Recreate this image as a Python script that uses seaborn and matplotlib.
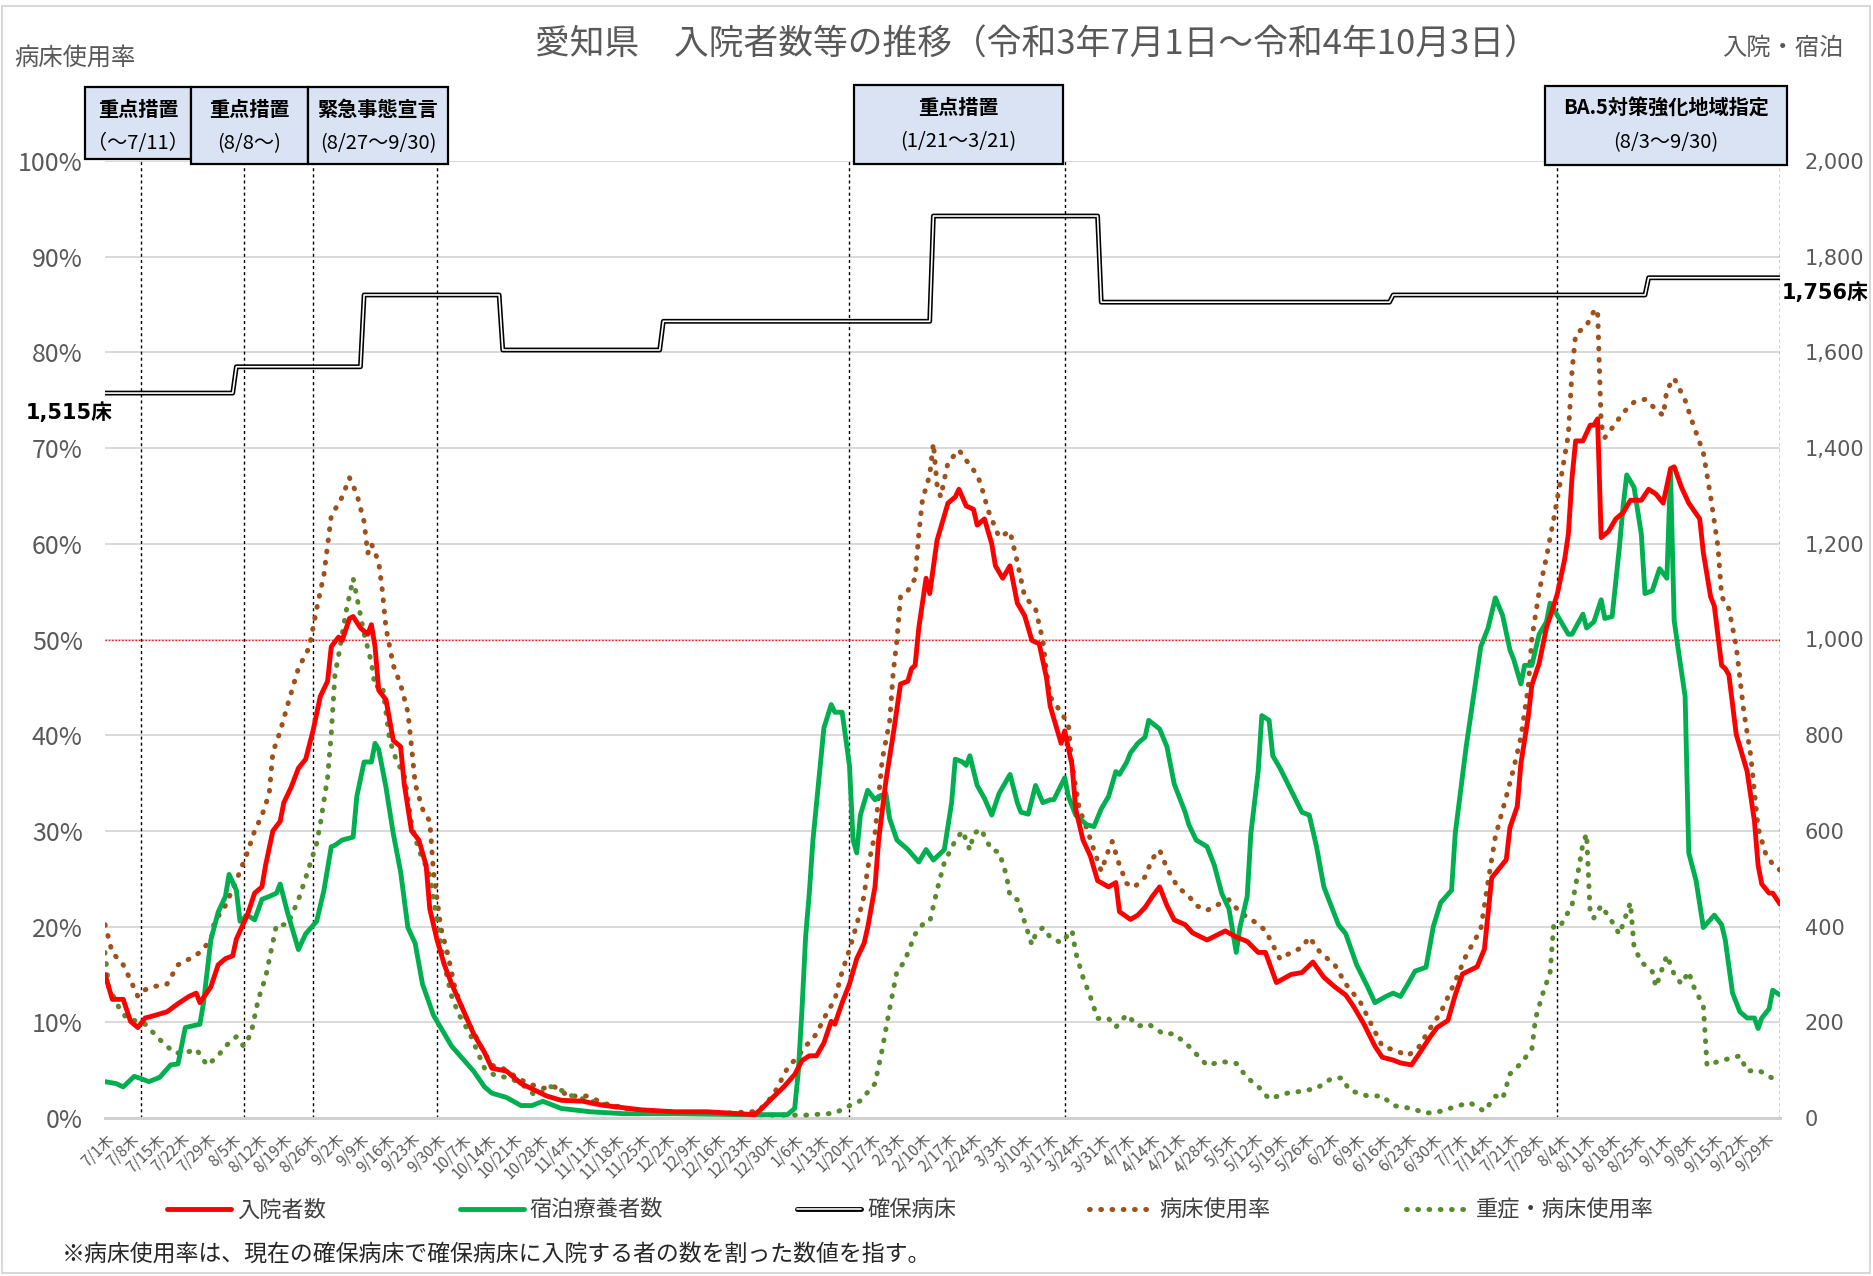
import numpy as np
import pandas as pd
import matplotlib
matplotlib.use("Agg")
import matplotlib.pyplot as plt
import matplotlib.patheffects as pe
from matplotlib.patches import Rectangle
import seaborn as sns

# ---------------------------------------------------------------- data
START = pd.Timestamp("2021-07-01")
END = pd.Timestamp("2022-10-03")

# 入院者数 (days since START, persons)
admitted = [(0, 300), (2, 248), (5, 248), (7, 202), (9, 189), (11, 209), (13, 213), (17, 222), (20, 239),
            (23, 254), (25, 261), (26, 241), (29, 274), (31, 320), (33, 333), (35, 339), (36, 374), (39, 424),
            (41, 470), (43, 483), (44, 528), (46, 600), (48, 620), (49, 659), (51, 691), (53, 731), (55, 750),
            (57, 809), (59, 881), (61, 913), (62, 985), (64, 1005), (65, 998), (67, 1044), (68, 1048), (70, 1024),
            (72, 1011), (73, 1031), (74, 985), (75, 894), (77, 874), (79, 789), (81, 776), (82, 698), (84, 600),
            (86, 581), (88, 528), (89, 437), (91, 372), (93, 320), (95, 280), (98, 228), (101, 176), (104, 137),
            (106, 104), (110, 98), (114, 72), (117, 61), (121, 46), (125, 37), (131, 35), (134, 30), (137, 26),
            (147, 17), (156, 13), (165, 13), (174, 9), (178, 7), (180, 20), (183, 43), (186, 65), (189, 91),
            (191, 120), (193, 130), (195, 130), (197, 157), (199, 202), (200, 196), (202, 241), (204, 280),
            (206, 333), (208, 365), (209, 398), (211, 483), (212, 581), (214, 705), (216, 802), (218, 907),
            (220, 913), (221, 939), (222, 946), (223, 1024), (225, 1128), (226, 1096), (228, 1207), (231, 1285),
            (233, 1298), (234, 1314), (236, 1279), (238, 1272), (239, 1239), (241, 1252), (243, 1200), (244, 1154),
            (246, 1128), (248, 1154), (250, 1076), (252, 1050), (254, 998), (256, 991), (258, 920), (259, 861),
            (262, 783), (263, 809), (265, 737), (266, 646), (268, 581), (270, 548), (272, 496), (275, 483),
            (277, 492), (278, 431), (281, 415), (283, 424), (285, 440), (287, 463), (289, 483), (291, 444),
            (293, 414), (296, 404), (298, 387), (302, 372), (306, 387), (307, 391), (310, 378), (313, 369),
            (316, 346), (318, 346), (321, 283), (325, 300), (328, 304), (331, 326), (334, 294), (337, 274),
            (340, 257), (342, 235), (345, 196), (348, 150), (350, 127), (353, 121), (355, 115), (358, 111),
            (360, 133), (363, 168), (365, 189), (368, 204), (370, 257), (372, 301), (376, 316), (378, 353),
            (379, 428), (380, 502), (384, 540), (385, 607), (387, 651), (388, 741), (390, 838), (391, 905),
            (393, 950), (395, 1025), (396, 1047), (398, 1096), (400, 1168), (401, 1220), (402, 1337), (403, 1415),
            (405, 1415), (407, 1448), (408, 1448), (409, 1461), (410, 1213), (412, 1226), (414, 1252), (416, 1265),
            (418, 1291), (421, 1291), (423, 1314), (425, 1304), (427, 1285), (429, 1357), (430, 1361), (432, 1318),
            (434, 1285), (437, 1252), (438, 1181), (440, 1089), (441, 1070), (443, 946), (444, 939), (445, 926),
            (447, 802), (450, 724), (452, 620), (453, 528), (454, 489), (456, 470), (457, 470), (459, 447)]

# 宿泊療養者数 (days since START, persons)
hotel = [(0, 76), (3, 72), (5, 65), (8, 87), (10, 82), (12, 76), (15, 85), (18, 111), (20, 113), (22, 189),
         (26, 196), (27, 241), (29, 372), (31, 430), (33, 463), (34, 509), (36, 476), (37, 411), (39, 424),
         (41, 414), (43, 457), (45, 463), (47, 470), (48, 489), (50, 430), (53, 352), (55, 385), (58, 411),
         (60, 476), (62, 567), (63, 570), (65, 581), (68, 587), (69, 672), (71, 744), (73, 744), (74, 783),
         (75, 770), (77, 691), (79, 594), (81, 515), (83, 398), (85, 365), (87, 280), (90, 215), (93, 176),
         (95, 150), (98, 124), (101, 98), (104, 65), (106, 52), (110, 43), (114, 26), (117, 26), (120, 35),
         (125, 20), (133, 13), (142, 9), (156, 9), (174, 7), (187, 7), (189, 20), (190, 98), (191, 228),
         (192, 380), (193, 470), (194, 581), (196, 737), (197, 815), (199, 864), (200, 848), (202, 848),
         (204, 737), (205, 581), (206, 554), (207, 633), (209, 685), (211, 665), (212, 672), (214, 678),
         (215, 626), (217, 581), (220, 561), (223, 535), (225, 561), (227, 539), (230, 561), (232, 659),
         (233, 750), (235, 744), (236, 737), (237, 757), (239, 695), (241, 668), (243, 633), (245, 678),
         (248, 718), (250, 659), (251, 639), (253, 635), (255, 695), (257, 659), (259, 665), (260, 665),
         (263, 711), (264, 672), (266, 633), (269, 613), (271, 609), (273, 646), (275, 672), (277, 724),
         (278, 718), (280, 744), (281, 763), (283, 783), (285, 796), (286, 831), (289, 813), (291, 776),
         (293, 698), (296, 639), (297, 613), (299, 581), (302, 567), (304, 528), (306, 470), (308, 437),
         (310, 346), (311, 398), (313, 463), (314, 594), (316, 724), (317, 841), (319, 831), (320, 757),
         (322, 731), (325, 685), (328, 639), (330, 633), (332, 567), (334, 483), (337, 424), (338, 404),
         (340, 385), (343, 320), (346, 274), (348, 241), (351, 254), (353, 261), (355, 254), (357, 280),
         (359, 307), (362, 315), (364, 400), (366, 450), (369, 476), (370, 594), (373, 776), (375, 881),
         (377, 985), (379, 1024), (381, 1087), (383, 1050), (385, 978), (386, 959), (388, 907), (389, 946),
         (391, 946), (393, 1011), (395, 1037), (396, 1076), (399, 1037), (401, 1011), (402, 1011), (405, 1053),
         (406, 1024), (408, 1037), (410, 1083), (411, 1044), (413, 1048), (415, 1194), (416, 1278), (417, 1344),
         (419, 1318), (421, 1220), (422, 1096), (424, 1102), (426, 1148), (428, 1128), (429, 1350), (430, 1040),
         (431, 985), (433, 881), (434, 554), (436, 496), (438, 398), (441, 424), (443, 404), (444, 372),
         (446, 261), (448, 222), (450, 209), (452, 209), (453, 187), (454, 209), (456, 228), (457, 267),
         (459, 257)]

# 確保病床 (days since START, beds) – level changes
beds = [(0, 1515), (35, 1515), (36, 1570), (70, 1570), (71, 1720), (108, 1720), (109, 1605), (152, 1605),
        (153, 1665), (226, 1665), (227, 1885), (272, 1885), (273, 1705), (352, 1705), (353, 1720), (422, 1720),
        (423, 1756), (459, 1756)]

# 病床使用率 (days since START, %)
occupancy = [(0, 20.2), (2, 17.3), (5, 16.0), (7, 14.4), (9, 12.7), (11, 13.4), (13, 13.7), (17, 14.0),
             (20, 16.0), (23, 16.6), (26, 17.3), (29, 18.6), (30, 20.5), (33, 22.2), (36, 24.8), (37, 25.8),
             (39, 27.7), (41, 30.0), (43, 31.6), (45, 33.9), (46, 38.2), (48, 40.4), (50, 43.1), (53, 47.0),
             (56, 49.2), (58, 53.2), (60, 56.8), (62, 62.9), (65, 64.9), (67, 66.9), (69, 65.2), (71, 62.3),
             (72, 59.0), (73, 60.0), (75, 58.1), (76, 55.1), (77, 51.2), (79, 47.3), (81, 45.3), (83, 42.4),
             (84, 38.8), (85, 34.9), (87, 32.3), (89, 31.0), (90, 25.8), (92, 19.9), (94, 17.0), (96, 13.4),
             (99, 10.4), (103, 7.5), (106, 5.5), (109, 5.2), (113, 4.2), (116, 3.6), (120, 3.1), (123, 3.3),
             (127, 2.3), (132, 2.3), (137, 1.5), (147, 0.7), (156, 0.5), (170, 0.5), (179, 0.7), (183, 2.3),
             (187, 5.2), (190, 6.5), (192, 7.5), (195, 8.8), (197, 10.4), (200, 12.4), (202, 15.3), (204, 17.6),
             (206, 20.2), (208, 23.2), (209, 26.1), (211, 29.7), (212, 33.6), (213, 37.5), (215, 41.4),
             (216, 46.6), (217, 49.9), (218, 54.5), (220, 55.1), (222, 56.4), (223, 61.0), (224, 64.6),
             (226, 67.2), (227, 70.5), (228, 66.2), (229, 64.9), (231, 68.5), (234, 69.8), (237, 68.2),
             (239, 67.2), (240, 66.2), (242, 63.5), (245, 60.7), (248, 61.3), (250, 58.1), (252, 54.5),
             (255, 53.2), (257, 49.9), (258, 46.6), (259, 44.0), (262, 42.4), (264, 41.1), (265, 36.9),
             (267, 32.3), (269, 30.3), (271, 28.0), (273, 25.8), (275, 28.0), (276, 28.9), (278, 26.4),
             (280, 24.5), (282, 24.1), (285, 25.2), (287, 27.1), (289, 28.0), (291, 26.1), (294, 24.1),
             (297, 23.2), (299, 22.2), (302, 21.7), (305, 22.3), (308, 22.8), (311, 21.5), (315, 20.5),
             (318, 19.6), (322, 16.6), (325, 17.3), (328, 17.8), (330, 18.9), (333, 17.3), (337, 16.0),
             (340, 14.0), (344, 12.1), (347, 9.8), (350, 7.5), (354, 7.0), (357, 6.5), (360, 7.4), (363, 9.3),
             (366, 11.0), (370, 14.3), (373, 17.0), (377, 19.7), (379, 24.7), (381, 29.4), (384, 33.6),
             (386, 36.5), (388, 39.8), (390, 45.0), (391, 50.1), (393, 55.0), (395, 58.6), (397, 62.6),
             (399, 66.9), (401, 71.4), (402, 78.0), (403, 81.9), (406, 82.8), (408, 84.3),
             (409, 84.5), (410, 72.5), (411, 71.1), (413, 72.1), (416, 73.7), (419, 74.8), (422, 75.1),
             (424, 74.4), (427, 73.4), (428, 76.1), (430, 77.3), (433, 75.0), (435, 72.7), (438, 69.5),
             (440, 64.9), (442, 59.7), (443, 54.5), (445, 53.2), (447, 49.3), (449, 42.7), (451, 37.8),
             (453, 30.3), (455, 27.7), (457, 26.5), (459, 25.9)]

# 重症・病床使用率 (days since START, %)
severe = [(0, 17.3), (1, 13.7), (4, 11.4), (6, 10.4), (9, 10.1), (11, 9.8), (15, 8.2), (19, 6.8), (22, 6.8),
          (25, 7.2), (28, 5.5), (31, 6.5), (33, 7.5), (36, 8.5), (38, 7.5), (40, 8.8), (42, 12.4), (44, 14.7),
          (47, 20.2), (50, 20.2), (53, 22.8), (55, 25.1), (58, 28.7), (59, 30.7), (61, 35.6), (62, 40.1),
          (63, 46.3), (64, 48.3), (66, 52.8), (68, 56.4), (70, 52.5), (71, 50.6), (73, 47.6), (74, 45.0),
          (76, 45.3), (78, 39.5), (80, 37.2), (82, 35.9), (84, 30.7), (86, 28.0), (89, 25.4), (91, 20.5),
          (93, 16.0), (95, 12.7), (97, 10.8), (100, 8.8), (104, 5.2), (107, 4.4), (111, 4.2), (115, 3.3),
          (118, 2.3), (122, 3.3), (125, 2.9), (128, 2.3), (138, 1.3), (147, 0.7), (165, 0.5), (183, 0.3),
          (192, 0.3), (200, 0.5), (203, 1.1), (207, 1.8), (211, 3.6), (213, 7.2), (215, 11.4), (217, 15.3),
          (219, 16.3), (222, 19.2), (224, 20.2), (226, 20.5), (228, 23.8), (230, 26.7), (233, 29.0),
          (235, 30.0), (237, 28.0), (238, 29.7), (240, 30.2), (242, 28.7), (243, 28.0), (245, 27.8),
          (247, 25.4), (248, 23.2), (250, 22.8), (252, 20.5), (254, 18.1), (255, 19.2), (257, 19.9),
          (259, 18.9), (262, 18.3), (265, 19.6), (266, 17.3), (268, 14.7), (270, 12.7), (272, 10.4),
          (275, 10.4), (277, 9.5), (280, 10.8), (283, 9.6), (286, 9.8), (290, 8.8), (293, 8.8), (297, 7.5),
          (302, 5.5), (306, 5.9), (310, 5.7), (313, 4.2), (316, 3.3), (319, 2.0), (324, 2.6), (328, 2.8),
          (332, 3.1), (336, 4.1), (339, 4.2), (341, 2.9), (346, 2.3), (350, 2.3), (353, 1.3), (358, 1.0),
          (362, 0.5), (366, 0.7), (371, 1.3), (374, 1.6), (378, 0.7), (381, 2.3), (383, 2.0), (385, 4.6),
          (388, 5.7), (391, 7.2), (392, 10.4), (394, 13.0), (396, 15.2), (397, 20.2), (399, 20.2),
          (402, 22.2), (404, 26.4), (405, 28.7), (406, 29.7), (407, 21.2), (408, 20.9), (410, 22.2),
          (413, 20.5), (415, 19.2), (418, 22.5), (419, 17.9), (421, 16.3), (424, 15.3), (425, 13.7),
          (428, 17.0), (430, 15.0), (432, 14.0), (434, 15.3), (435, 14.0), (438, 11.7), (439, 5.5),
          (442, 5.9), (445, 6.2), (448, 6.5), (450, 4.9), (453, 5.0), (455, 4.6), (458, 3.9)]

# Measures in force and the dates marked by vertical lines
measures = [("重点措置", "（～7/11）"), ("重点措置", "(8/8～)"), ("緊急事態宣言", "(8/27～9/30)"),
            ("重点措置", "(1/21～3/21)"), ("BA.5対策強化地域指定", "(8/3～9/30)")]
measure_dates = ["2021-07-11", "2021-08-08", "2021-08-27", "2021-09-30",
                 "2022-01-21", "2022-03-21", "2022-08-03", "2022-10-03"]

legend_labels = ["入院者数", "宿泊療養者数", "確保病床", "病床使用率", "重症・病床使用率"]
pct_ticks = list(range(0, 101, 10))
count_ticks = list(range(0, 2001, 200))
WEEKDAYS = "月火水木金土日"

# ---------------------------------------------------------------- style
sns.set_style("white")
JP = ["Noto Sans CJK JP", "DejaVu Sans"]
WIDE = ["DejaVu Sans", "Noto Sans CJK JP"]
plt.rcParams["font.family"] = JP
GREY = "#595959"

W, H = 1873, 1276
fig = plt.figure(figsize=(W / 100, H / 100), dpi=100)


def fx(x):
    return x / W


def fy(y):
    return 1 - y / H


ax = fig.add_axes([fx(105), fy(1118), fx(1780) - fx(105), fy(161) - fy(1118)])
ax2 = ax.twinx()


def frame(pairs):
    df = pd.DataFrame(pairs, columns=["day", "value"])
    df["date"] = START + pd.to_timedelta(df["day"], unit="D")
    return df


def draw(axis, pairs, **kw):
    sns.lineplot(data=frame(pairs), x="date", y="value", ax=axis, errorbar=None, **kw)
    return axis.lines[-1]


def dotted(line, width):
    # round dots, roughly one dot-diameter apart
    line.set_linewidth(width)
    line.set_linestyle((0, (0.15, 2.1)))
    line.set_dash_capstyle("round")


# percentage series (left axis)
h_occ = draw(ax, occupancy, color="#A0501A", zorder=3)
dotted(h_occ, 3.6)
h_sev = draw(ax, severe, color="#5A8A2E", zorder=3)
dotted(h_sev, 3.6)

# count series (right axis)
h_beds = draw(ax2, beds, color="white", lw=1.2, zorder=2,
              path_effects=[pe.Stroke(linewidth=3.5, foreground="black"), pe.Normal()])
h_hotel = draw(ax2, hotel, color="#00B050", lw=3.5, zorder=3)
h_adm = draw(ax2, admitted, color="#FF0000", lw=3.5, zorder=4)

# reference lines
for d in measure_dates:
    ax.axvline(pd.Timestamp(d), color="black", lw=1.0, linestyle=(0, (2.2, 2.2)), zorder=1)
ax.axhline(50, color="#FF0000", lw=1.0, linestyle=(0, (1.0, 1.4)), zorder=1.5)

# axes
ax.set_xlim(START, END)
ax.set_ylim(0, 100)
ax2.set_ylim(0, 2000)
for a in (ax, ax2):
    a.set_xlabel("")
    a.set_ylabel("")
    for s in ("top", "left", "right"):
        a.spines[s].set_visible(False)
ax2.spines["bottom"].set_visible(False)
ax.spines["bottom"].set_color("#D0D0D0")
ax.spines["bottom"].set_linewidth(2.2)

ax.yaxis.grid(True, color="#D9D9D9", lw=1.4)
ax.xaxis.grid(False)
ax2.grid(False)

ax.set_yticks(pct_ticks)
ax.set_yticklabels([f"{v}%" for v in pct_ticks], fontsize=18, color=GREY)
ax.tick_params(axis="y", length=0, pad=16)
ax2.set_yticks(count_ticks)
ax2.set_yticklabels([f"{v:,}" for v in count_ticks], fontsize=15, color=GREY, family=WIDE)
ax2.tick_params(axis="y", length=0, pad=18)

weeks = pd.date_range(START, "2022-09-29", freq="7D")
ax.set_xticks(weeks)
ax.set_xticklabels([f"{d.month}/{d.day}{WEEKDAYS[d.weekday()]}" for d in weeks],
                   fontsize=11, color=GREY, rotation=45, ha="right", rotation_mode="anchor")
ax.tick_params(axis="x", length=6, width=1.3, color="#BFBFBF", pad=3, direction="out")

# bed-count end labels
fig.text(fx(26), fy(413), f"{beds[0][1]:,}床", fontsize=15, fontweight="bold",
         family=WIDE, ha="left", va="center", color="black")
fig.text(fx(1782), fy(293), f"{beds[-1][1]:,}床", fontsize=15, fontweight="bold",
         family=WIDE, ha="left", va="center", color="black")

# titles
fig.text(fx(1037), fy(45), "愛知県　入院者数等の推移（令和3年7月1日～令和4年10月3日）",
         fontsize=25, color=GREY, ha="center", va="center")
fig.text(fx(14), fy(58), "病床使用率", fontsize=17.5, color=GREY, ha="left", va="center")
fig.text(fx(1843), fy(48), "入院・宿泊", fontsize=17.5, color=GREY, ha="right", va="center")

# measure boxes (pixel layout: left, right, top, bottom)
box_px = [(85, 191, 87, 159), (191, 308, 87, 164), (308, 448, 87, 164),
          (854, 1063, 85, 164), (1545, 1787, 86, 165)]
for (name, period), (x0, x1, y0, y1) in zip(measures, box_px):
    fig.add_artist(Rectangle((fx(x0), fy(y1)), fx(x1) - fx(x0), fy(y0) - fy(y1),
                             transform=fig.transFigure, facecolor="#DAE3F3",
                             edgecolor="black", lw=1.6, zorder=5))
    cx = fx((x0 + x1) / 2)
    fig.text(cx, fy(y0 + 22), name, fontsize=14.5, fontweight="bold", ha="center",
             va="center", color="black", zorder=6)
    fig.text(cx, fy(y0 + 57), period, fontsize=14.5, ha="center", va="center",
             color="black", zorder=6)

# legend, one entry per slot
legend_x = [167, 460, 797, 1089, 1406]
for h, lab, x in zip([h_adm, h_hotel, h_beds, h_occ, h_sev], legend_labels, legend_x):
    fig.legend([h], [lab], loc="center left", bbox_to_anchor=(fx(x), fy(1210)),
               bbox_transform=fig.transFigure, frameon=False, fontsize=16,
               handlelength=2.9, handletextpad=0.25, borderpad=0, borderaxespad=0,
               labelcolor="#404040")

fig.text(fx(62), fy(1254), "※病床使用率は、現在の確保病床で確保病床に入院する者の数を割った数値を指す。",
         fontsize=16.5, color="#262626", ha="left", va="center")

# outer frame
fig.add_artist(Rectangle((fx(2), fy(1273)), fx(1870) - fx(2), fy(6) - fy(1273),
                         transform=fig.transFigure, fill=False, edgecolor="#D9D9D9", lw=1.5))

fig.savefig("out.png", dpi=100)
